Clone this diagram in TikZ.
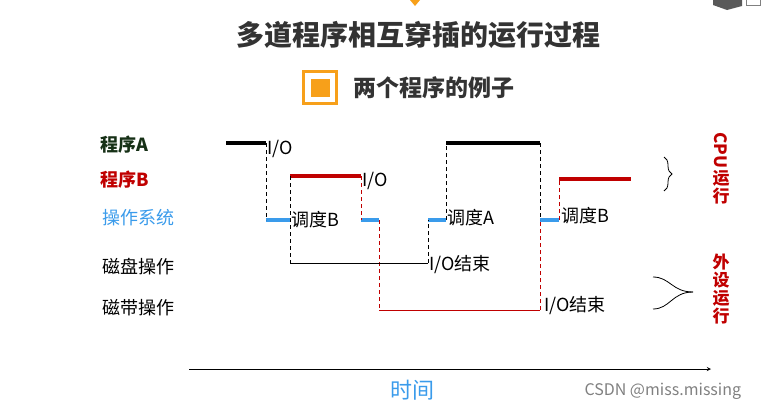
\documentclass[tikz,border=0pt]{standalone}
\usepackage{fontspec}
\usepackage{xcolor}
\usepackage{tikz}
\usetikzlibrary{positioning, calc, decorations.pathreplacing}
\newfontfamily\cjk{Noto Sans CJK SC}
\definecolor{progred}{RGB}{192, 0, 0}
\definecolor{osblue}{RGB}{58, 155, 235}
\definecolor{progdark}{RGB}{22, 48, 22}
\definecolor{titlegray}{RGB}{51, 51, 51}
\definecolor{iconorange}{RGB}{247, 160, 26}

\begin{document}
\begin{tikzpicture}[
    x=1pt, y=-1pt,
    heading/.style={font=\cjk\bfseries\fontsize{28}{30}\selectfont, text=titlegray},
    rowlabel/.style={anchor=west, inner sep=0pt, font=\cjk\fontsize{18}{20}\selectfont},
    rowbold/.style={anchor=west, inner sep=0pt, font=\cjk\bfseries\fontsize{18}{20}\selectfont},
    tag/.style={anchor=west, inner sep=1pt, font=\cjk\fontsize{18}{20}\selectfont},
    sidelabel/.style={align=center, inner sep=0pt, text=progred, font=\cjk\bfseries\fontsize{17}{18}\selectfont},
    abar/.style={line width=4pt, black},
    bbar/.style={line width=4pt, progred},
    osbar/.style={line width=4pt, osblue},
    blackdash/.style={line width=0.9pt, dash pattern=on 4pt off 3pt},
    reddash/.style={line width=0.9pt, dash pattern=on 4pt off 3pt, progred},
    ioline/.style={line width=1pt},
    arrow/.style={->, >=stealth, line width=0.9pt}
]
    \useasboundingbox (0,0) rectangle (763,410);

    % Page marks at the top
    \fill[iconorange] (410,0) -- (420,0) -- (415,6) -- cycle;
    \fill[gray!70!black] (713,0) -- (742,0) -- (742,6) -- (727,10) -- (713,5) -- cycle;
    \draw[gray, line width=0.8pt] (746,0) -- (746,5) -- (760,5) -- (760,0);

    % Title and subtitle
    \node[heading] (title) at (418,35) {多道程序相互穿插的运行过程};
    \draw[iconorange, line width=3pt] (303.5,71.5) rectangle (336.5,103.5);
    \fill[iconorange] (310.5,78.5) rectangle (329.5,96.5);
    \node[heading, anchor=west, font=\cjk\bfseries\fontsize{23}{26}\selectfont] (sub) at (350,88) {两个程序的例子};

    % Row labels
    \node[rowbold, text=progdark] (progA) at (100,145) {程序A};
    \node[rowbold, text=progred] (progB) at (100,180) {程序B};
    \node[rowlabel, text=osblue] (os) at (102,218) {操作系统};
    \node[rowlabel] (disk) at (102,267) {磁盘操作};
    \node[rowlabel] (tape) at (102,308) {磁带操作};

    % Program A
    \coordinate (a1) at (226,143);
    \coordinate (a2) at (266,143);
    \coordinate (a3) at (446,143);
    \coordinate (a4) at (540,143);
    % Program B
    \coordinate (b1) at (290,176);
    \coordinate (b2) at (361,176);
    \coordinate (b3) at (559,179);
    \coordinate (b4) at (631,179);
    % Operating system
    \coordinate (s1) at (266,220);
    \coordinate (s2) at (290,220);
    \coordinate (s3) at (361,220);
    \coordinate (s4) at (379,220);
    \coordinate (s5) at (428,220);
    \coordinate (s6) at (446,220);
    \coordinate (s7) at (540,220);
    \coordinate (s8) at (559,220);
    % Disk and tape
    \coordinate (d1) at (290,263);
    \coordinate (d2) at (428,263);
    \coordinate (t1) at (379,310);
    \coordinate (t2) at (540,310);

    % Bars
    \draw[abar] (a1) -- (a2);
    \draw[abar] (a3) -- (a4);
    \draw[bbar] (b1) -- (b2);
    \draw[bbar] (b3) -- (b4);
    \draw[osbar] (s1) -- (s2);
    \draw[osbar] (s3) -- (s4);
    \draw[osbar] (s5) -- (s6);
    \draw[osbar] (s7) -- (s8);

    % Switches
    \draw[blackdash] (a2) -- (s1);
    \draw[blackdash] (b1) -- (d1);
    \draw[blackdash] (d2) -- (s5);
    \draw[blackdash] (s6) -- (a3);
    \draw[blackdash] (a4) -- (s7);
    \draw[reddash] (b2) -- (s3);
    \draw[reddash] (s4) -- (t1);
    \draw[reddash] (t2) -- (s7);
    \draw[reddash] (s8) -- (b3);
    \draw[ioline] (d1) -- (d2);
    \draw[ioline, progred] (t1) -- (t2);

    % Event labels
    \node[tag] (io1) at ($(a2)+(0,6)$) {I/O};
    \node[tag] (io2) at ($(b2)+(0,5)$) {I/O};
    \node[tag] (sched1) at (s2) {调度B};
    \node[tag] (sched2) at ($(s6)+(0,-2)$) {调度A};
    \node[tag] (sched3) at ($(s8)+(1,-4)$) {调度B};
    \node[tag] (end1) at ($(d2)+(0,2)$) {I/O结束};
    \node[tag] (end2) at ($(t2)+(3,-4)$) {I/O结束};

    % Braces and side labels
    \coordinate (cputop) at (664,157);
    \coordinate (cpubot) at (664,191);
    \draw[decorate, decoration={brace, amplitude=8pt}, line width=0.8pt] (cputop) -- (cpubot);
    \coordinate (devtop) at (653,277);
    \coordinate (devtip) at (693,292);
    \coordinate (devbot) at (653,309);
    \draw[line width=0.8pt] (devtop) .. controls (670,277) and (672,292) .. (devtip);
    \draw[line width=0.8pt] (devbot) .. controls (670,309) and (672,292) .. (devtip);
    \node[sidelabel, rotate=-90] (cpu) at (721,150) {CPU};
    \node[sidelabel] (cpurun) at (721,187) {运\\行};
    \node[sidelabel] (devrun) at (721,289) {外\\设\\运\\行};

    % Time axis
    \coordinate (ax1) at (189,369);
    \coordinate (ax2) at (711,369);
    \draw[arrow] (ax1) -- (ax2);
    \node[font=\cjk\fontsize{22}{24}\selectfont, text=osblue] (time) at (412,390) {时间};
    \node[anchor=west, font=\cjk\fontsize{16}{18}\selectfont, text=gray] (mark) at (581,391) {CSDN @miss.missing};

\end{tikzpicture}
\end{document}
